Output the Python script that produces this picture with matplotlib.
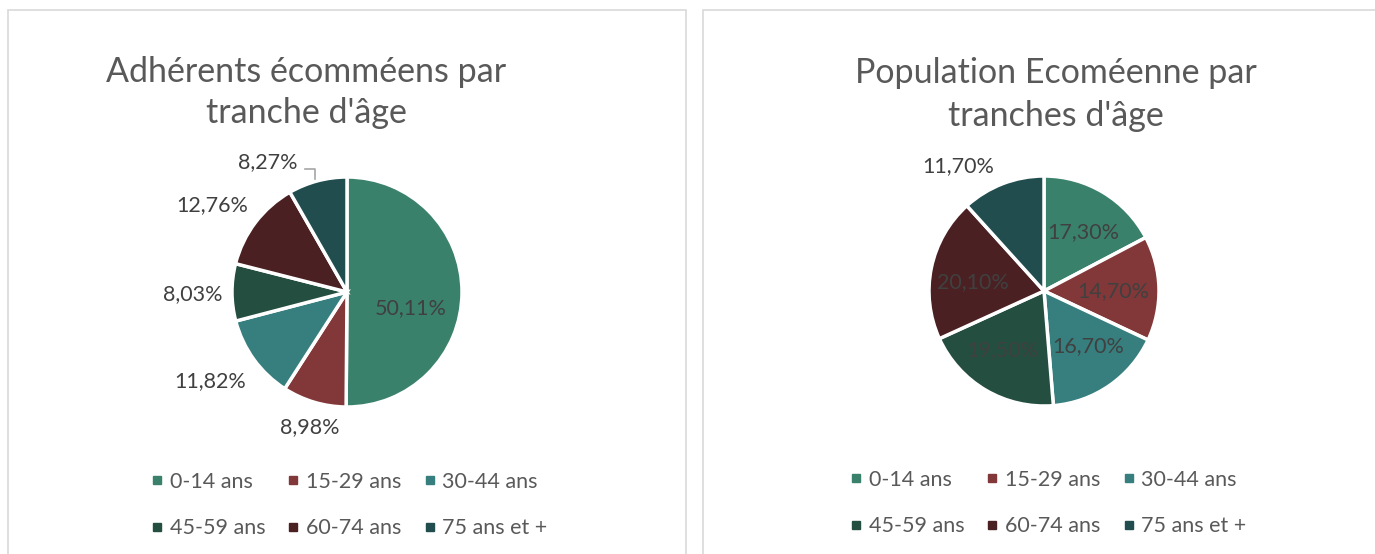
import matplotlib
matplotlib.use("Agg")
import matplotlib.pyplot as plt
import numpy as np
from matplotlib.lines import Line2D
from matplotlib.patches import Rectangle

plt.rcParams['font.family'] = ['Lato', 'DejaVu Sans']

categories = ["0-14 ans", "15-29 ans", "30-44 ans", "45-59 ans", "60-74 ans", "75 ans et +"]
colors = ["#3A816B", "#823838", "#367F7E", "#234E40", "#4A2022", "#214D4F"]

adherents = [50.11, 8.98, 11.82, 8.03, 12.76, 8.27]
population = [17.30, 14.70, 16.70, 19.50, 20.10, 11.70]

title_left = ["Adhérents écomméens par", "tranche d'âge"]
title_right = ["Population Ecoméenne par", "tranches d'âge"]

# label placement styles (radius factor, angle offset in degrees)
left_label_pos = [(0.57, -14), (1.22, 1.3), (1.42, -3), (1.34, 0.5), (1.40, 4.4), (1.32, 16.6)]
right_label_pos = [(0.615, -2.4), (0.60, -1.3), (0.61, 4), (0.63, -5), (0.62, 4.5), (1.32, 13.4)]

W, H = 1375, 554
fig = plt.figure(figsize=(W / 100, H / 100), dpi=100)
fig.patch.set_facecolor("white")

def fx(x):
    return x / W

def fy(y):
    return 1 - y / H

# panel borders
for (x0, x1) in [(8, 686), (703, 1380)]:
    fig.patches.append(Rectangle((fx(x0), fy(560)), fx(x1) - fx(x0), fy(10) - fy(560),
                                 transform=fig.transFigure, fill=False,
                                 edgecolor="#d9d9d9", linewidth=1.2))

def draw_pie(cx, cy, r, values, label_pos, leader_idx=None):
    ax = fig.add_axes([fx(cx - r), fy(cy + r), (2 * r) / W, (2 * r) / H])
    ax.pie(values, colors=colors, startangle=90, counterclock=False,
           radius=1.0, wedgeprops=dict(edgecolor="white", linewidth=2.5))
    ax.set_xlim(-1, 1)
    ax.set_ylim(-1, 1)
    ax.set_aspect("equal")
    ax.axis("off")
    total = sum(values)
    cum = 0
    for i, v in enumerate(values):
        mid = 90 - 360 * (cum + v / 2) / total
        cum += v
        rr, dth = label_pos[i]
        ang = np.deg2rad(mid + dth)
        x, y = rr * np.cos(ang), rr * np.sin(ang)
        txt = f"{v:.2f}%".replace(".", ",")
        ax.text(x, y, txt, ha="center", va="center", fontsize=15.5,
                color="#404040", clip_on=False)
        if leader_idx == i:
            x1, y1 = x + 0.32, y - 0.06
            x2 = x + 0.415
            y2 = np.sqrt(1 - x2 ** 2) + 0.02
            ax.plot([x1, x2, x2], [y1, y1, y2], color="#a6a6a6",
                    linewidth=1.2, clip_on=False)
    return ax

draw_pie(347, 292, 115, adherents, left_label_pos, leader_idx=5)
draw_pie(1044, 291, 115, population, right_label_pos)

# titles
for lines, cx, ys in [(title_left, 306, (72, 113)), (title_right, 1056, (73, 116))]:
    for t, y in zip(lines, ys):
        fig.text(fx(cx), fy(y), t, ha="center", va="center", fontsize=24.5, color="#595959")

# legends
order = [0, 3, 1, 4, 2, 5]
handles = [Line2D([], [], marker="s", linestyle="", markersize=5.5,
                  markerfacecolor=colors[i], markeredgecolor=colors[i]) for i in order]
labels = [categories[i] for i in order]
for cx, cy in ((349, 505), (1048, 503)):
    fig.legend(handles, labels, ncol=3, loc="center", bbox_to_anchor=(fx(cx), fy(cy)),
               frameon=False, fontsize=15.5, labelcolor="#595959",
               handlelength=0.6, handletextpad=0.3, columnspacing=1.0,
               labelspacing=1.25)

fig.savefig("out.png", dpi=100, facecolor="white")
